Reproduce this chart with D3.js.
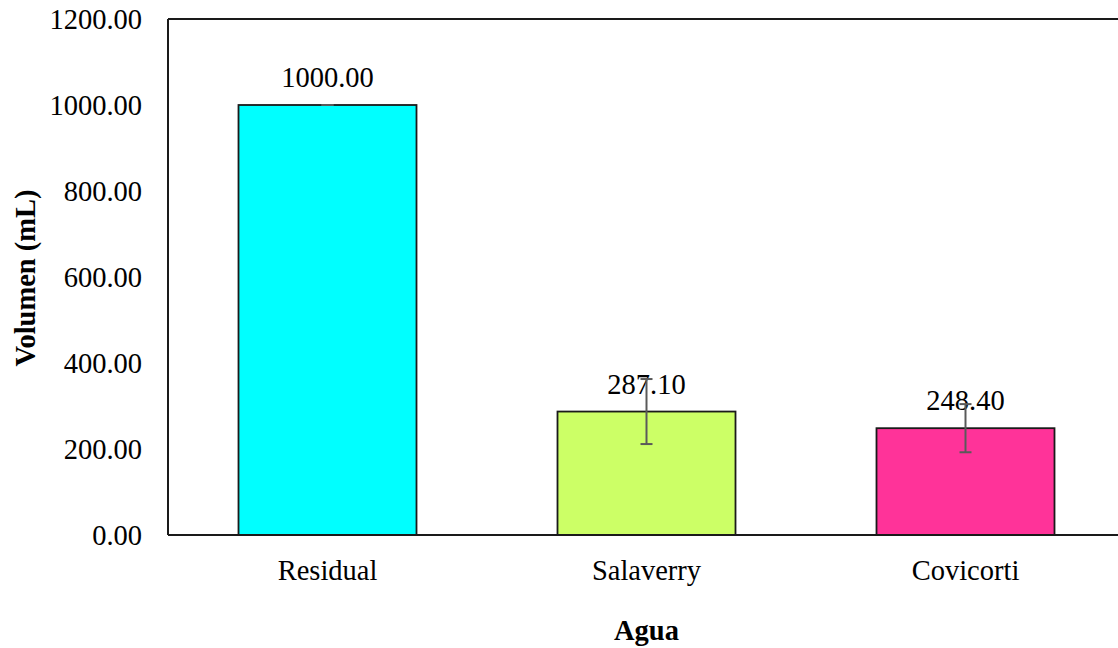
<!DOCTYPE html>
<html>
<head>
<meta charset="utf-8">
<script src="https://cdn.jsdelivr.net/npm/d3@7"></script>
<style>
  html, body { margin: 0; padding: 0; background: #fff; }
  svg { display: block; }
  text { font-family: "Liberation Serif", "Times New Roman", serif; fill: #000; }
</style>
</head>
<body>
<svg id="chart" width="1118" height="648"></svg>
<script>
// Volume of water per source
const categories = ["Residual", "Salaverry", "Covicorti"];
const volumes = [1000.00, 287.10, 248.40];
const errors = [0, 75.6, 56.0];
const barColors = ["#00FFFF", "#CCFF66", "#FF3399"];
const yTicks = [0, 200, 400, 600, 800, 1000, 1200];

const svg = d3.select("#chart");

const plotLeft = 168, plotRight = 1125, plotTop = 19, plotBottom = 535;

const x = d3.scaleBand()
  .domain(categories)
  .range([plotLeft, plotRight])
  .paddingInner(0.442)
  .paddingOuter(0.221);

const y = d3.scaleLinear()
  .domain([0, 1200])
  .range([plotBottom, plotTop]);

// Bars
svg.append("g").selectAll("rect")
  .data(categories)
  .join("rect")
  .attr("x", d => x(d))
  .attr("y", (d, i) => y(volumes[i]))
  .attr("width", x.bandwidth())
  .attr("height", (d, i) => y(0) - y(volumes[i]))
  .attr("fill", (d, i) => barColors[i])
  .attr("stroke", "#1a1a1a")
  .attr("stroke-width", 1.8);

// Value labels
svg.append("g").selectAll("text")
  .data(categories)
  .join("text")
  .attr("x", d => x(d) + x.bandwidth() / 2)
  .attr("y", (d, i) => y(volumes[i]) - 18)
  .attr("text-anchor", "middle")
  .style("font-size", "28.5px")
  .text((d, i) => volumes[i].toFixed(2));

// Error bars
const eb = svg.append("g").attr("stroke", "#5a5a5a").attr("stroke-width", 2);
categories.forEach((c, i) => {
  const cx = x(c) + x.bandwidth() / 2;
  const hi = y(volumes[i] + errors[i]);
  const lo = y(volumes[i] - errors[i]);
  eb.append("line").attr("x1", cx).attr("x2", cx).attr("y1", hi).attr("y2", lo);
  eb.append("line").attr("x1", cx - 6).attr("x2", cx + 6).attr("y1", hi).attr("y2", hi);
  eb.append("line").attr("x1", cx - 6).attr("x2", cx + 6).attr("y1", lo).attr("y2", lo);
});

// Y axis
const yAxis = svg.append("g")
  .attr("transform", `translate(${plotLeft},0)`)
  .call(d3.axisLeft(y).tickValues(yTicks).tickFormat(d3.format(".2f")).tickSize(0).tickPadding(26));
yAxis.select(".domain").remove();
yAxis.selectAll("text")
  .style("font-family", "'Liberation Serif', 'Times New Roman', serif")
  .style("font-size", "28.5px")
  .attr("fill", "#000");

// X axis labels
const xAxis = svg.append("g")
  .attr("transform", `translate(0,${plotBottom})`)
  .call(d3.axisBottom(x).tickSize(0).tickPadding(25));
xAxis.select(".domain").remove();
xAxis.selectAll("text")
  .style("font-family", "'Liberation Serif', 'Times New Roman', serif")
  .style("font-size", "28.5px")
  .attr("fill", "#000");

// Plot frame: left, top and baseline
const frame = svg.append("g").attr("stroke", "#1a1a1a").attr("stroke-width", 2).attr("fill", "none");
frame.append("line").attr("x1", plotLeft).attr("x2", plotLeft).attr("y1", plotTop).attr("y2", plotBottom);
frame.append("line").attr("x1", plotLeft).attr("x2", 1118).attr("y1", plotTop).attr("y2", plotTop);
frame.append("line").attr("x1", plotLeft).attr("x2", 1118).attr("y1", plotBottom).attr("y2", plotBottom);

// Axis titles
svg.append("text")
  .attr("transform", `translate(35,278) rotate(-90)`)
  .attr("text-anchor", "middle")
  .style("font-size", "28.5px")
  .style("font-weight", "bold")
  .text("Volumen (mL)");

svg.append("text")
  .attr("x", x("Salaverry") + x.bandwidth() / 2)
  .attr("y", 640)
  .attr("text-anchor", "middle")
  .style("font-size", "28.5px")
  .style("font-weight", "bold")
  .text("Agua");
</script>
</body>
</html>
